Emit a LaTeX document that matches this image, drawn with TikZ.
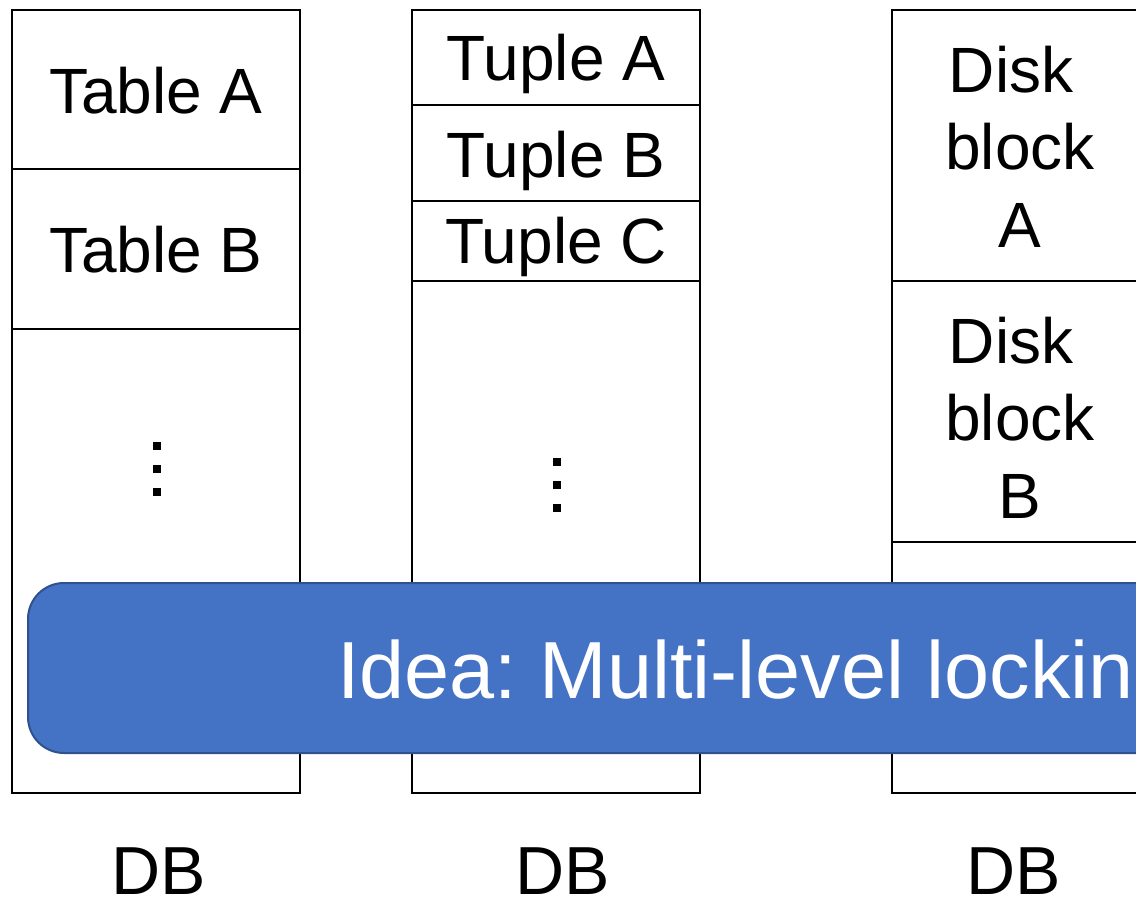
\documentclass[tikz,border=0pt]{standalone}
\usepackage{fontspec}
\setmainfont{Liberation Sans}
\definecolor{bannerblue}{HTML}{4472C4}
\definecolor{bannerrim}{HTML}{2F528F}
\begin{document}
\frenchspacing
\begin{tikzpicture}[x=1pt,y=-1pt,
  col/.style={draw=black,line width=2.8pt},
  cell/.style={font=\fontsize{64}{77.5}\selectfont,inner sep=0pt,anchor=base,align=center},
  dblabel/.style={font=\fontsize{68}{80}\selectfont,inner sep=0pt,anchor=base},
  dotmark/.style={fill=black},
  banner/.style={fill=bannerblue,draw=bannerrim,line width=2pt,rounded corners=36pt},
  bannertext/.style={font=\fontsize{81}{96}\selectfont,text=white,inner sep=0pt,anchor=base west}]
\useasboundingbox (0,0) rectangle (1136,900);
\clip (0,0) rectangle (1136,900);

% Column 1: tables
\draw[col] (12,10) rectangle (300,793);
\draw[col] (12,169) -- (300,169);
\draw[col] (12,329) -- (300,329);
\node[cell] (ta) at (156,113) {Table A};
\node[cell] (tb) at (156,272) {Table B};
\foreach \y in {446,469,492} \fill[dotmark] (153,\y-4) rectangle (161,\y+4);

% Column 2: tuples
\draw[col] (412,10) rectangle (700,793);
\draw[col] (412,105) -- (700,105);
\draw[col] (412,201) -- (700,201);
\draw[col] (412,281) -- (700,281);
\node[cell] (ua) at (556,80) {Tuple A};
\node[cell] (ub) at (556,177) {Tuple B};
\node[cell] (uc) at (556,263) {Tuple C};
\foreach \y in {462,485,508} \fill[dotmark] (553,\y-4) rectangle (561,\y+4);

% Column 3: disk blocks (base anchor sits on the last line)
\draw[col] (892,10) rectangle (1180,793);
\draw[col] (892,281) -- (1180,281);
\draw[col] (892,542) -- (1180,542);
\node[cell] (da) at (1020,247) {Disk\kern0.278em\\block\\A};
\node[cell] (db) at (1020,518) {Disk\kern0.278em\\block\\B};

% Captions
\node[dblabel] (c1) at (159,894) {DB};
\node[dblabel] (c2) at (563,894) {DB};
\node[dblabel] (c3) at (1014,894) {DB};

% Overlay banner
\draw[banner] (28,583) rectangle (1500,753);
\node[bannertext] (idea) at (337,698) {Idea: Multi-level locking};
\end{tikzpicture}
\end{document}
